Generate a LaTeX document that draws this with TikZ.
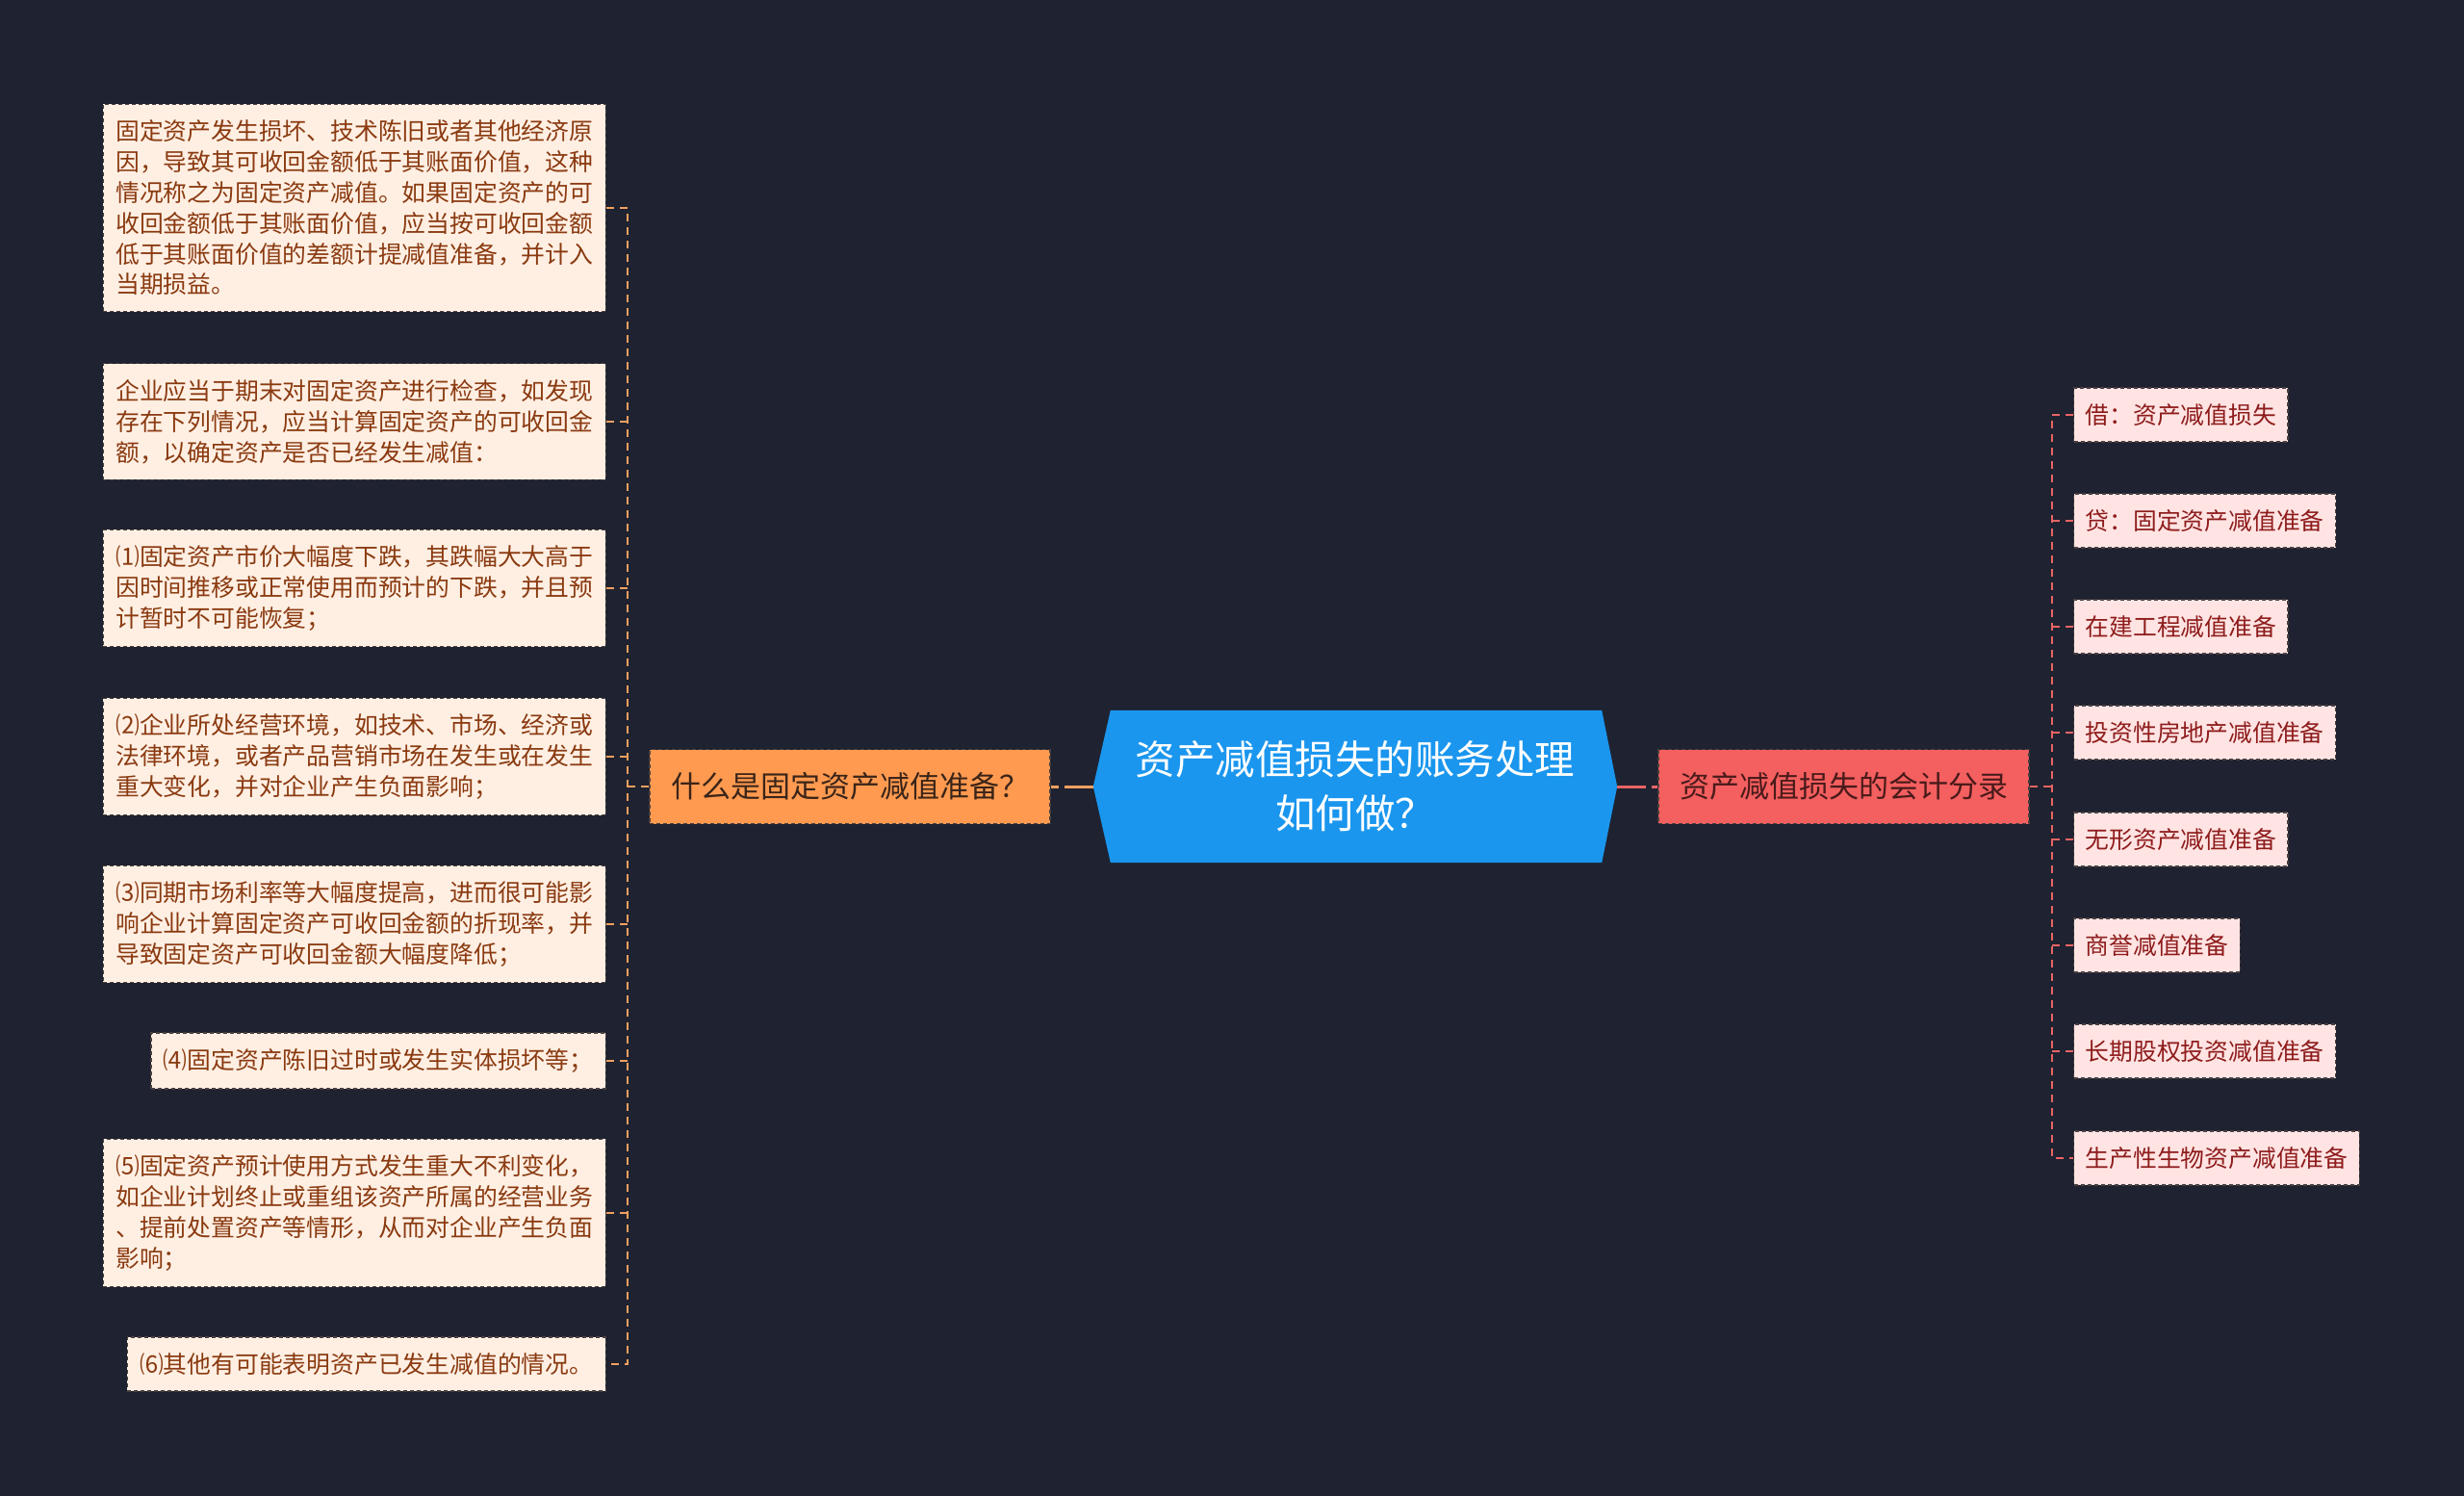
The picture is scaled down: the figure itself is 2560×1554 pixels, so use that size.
\documentclass[tikz,border=0pt]{standalone}
\usepackage{fontspec}
\setmainfont{Noto Sans CJK SC}
\definecolor{bg}{HTML}{1F2230}
\definecolor{cblue}{HTML}{1A96EE}
\definecolor{orangeb}{HTML}{FF9A50}
\definecolor{redb}{HTML}{F45F5F}
\definecolor{lfill}{HTML}{FFEFE3}
\definecolor{rfill}{HTML}{FFE4E3}
\definecolor{ltext}{HTML}{8A3A10}
\definecolor{rtext}{HTML}{8E1C1C}
\definecolor{lline}{HTML}{F0A060}
\definecolor{rline}{HTML}{E86464}
\definecolor{bborder}{HTML}{4A4040}
\definecolor{lbtext}{HTML}{3A2418}
\definecolor{rbtext}{HTML}{4A1A1A}
\begin{document}
\begin{tikzpicture}[x=1pt,y=-1pt,
  lbox/.style={fill=lfill, draw=bborder, line width=1.3pt, dash pattern=on 4pt off 3pt,
    text=ltext, font=\fontsize{24.8}{31.8}\selectfont, align=left,
    inner xsep=13pt, inner ysep=16.5pt, anchor=east},
  rbox/.style={fill=rfill, draw=bborder, line width=1.3pt, dash pattern=on 4pt off 3pt,
    text=rtext, font=\fontsize{24.8}{31.8}\selectfont, align=left,
    inner xsep=12pt, inner ysep=16.5pt, anchor=west},
  branchbox/.style={draw=bborder, line width=1.3pt, dash pattern=on 4pt off 3pt,
    font=\fontsize{31}{38}\selectfont, minimum height=77pt, inner sep=0pt},
  lconn/.style={draw=lline, line width=2pt, dash pattern=on 8pt off 6pt},
  rconn/.style={draw=rline, line width=2pt, dash pattern=on 8pt off 6pt},
  cconnl/.style={draw=lline, line width=3pt, dash pattern=on 30pt off 6pt},
  cconnr/.style={draw=rline, line width=3pt, dash pattern=on 30pt off 6pt}
]
\fill[bg] (0,0) rectangle (2560,1554);
\useasboundingbox (0,0) rectangle (2560,1554);

% center
\node[minimum width=544pt, minimum height=158pt, inner sep=0pt] (c) at (1408,817) {};
\fill[cblue] (c.west) -- ([xshift=18pt]c.north west) -- ([xshift=-16pt]c.north east) -- (c.east)
  -- ([xshift=-16pt]c.south east) -- ([xshift=18pt]c.south west) -- cycle;
\node[text=white, font=\fontsize{41.5}{56}\selectfont, align=center] (ct) at (c.center)
  {资产减值损失的账务处理\\如何做？};

% branches
\node[branchbox, fill=orangeb, text=lbtext, minimum width=416pt] (lb) at (883,817)
  {什么是固定资产减值准备？};
\node[branchbox, fill=redb, text=rbtext, minimum width=385pt] (rb) at (1915.5,817)
  {资产减值损失的会计分录};

% left children
\node[lbox] (l1) at (630,216) {固定资产发生损坏、技术陈旧或者其他经济原\\因，导致其可收回金额低于其账面价值，这种\\情况称之为固定资产减值。如果固定资产的可\\收回金额低于其账面价值，应当按可收回金额\\低于其账面价值的差额计提减值准备，并计入\\当期损益。};
\node[lbox] (l2) at (630,438) {企业应当于期末对固定资产进行检查，如发现\\存在下列情况，应当计算固定资产的可收回金\\额，以确定资产是否已经发生减值：};
\node[lbox] (l3) at (630,611) {⑴固定资产市价大幅度下跌，其跌幅大大高于\\因时间推移或正常使用而预计的下跌，并且预\\计暂时不可能恢复；};
\node[lbox] (l4) at (630,786) {⑵企业所处经营环境，如技术、市场、经济或\\法律环境，或者产品营销市场在发生或在发生\\重大变化，并对企业产生负面影响；};
\node[lbox] (l5) at (630,960) {⑶同期市场利率等大幅度提高，进而很可能影\\响企业计算固定资产可收回金额的折现率，并\\导致固定资产可收回金额大幅度降低；};
\node[lbox] (l6) at (630,1102) {⑷固定资产陈旧过时或发生实体损坏等；};
\node[lbox] (l7) at (630,1260) {⑸固定资产预计使用方式发生重大不利变化，\\如企业计划终止或重组该资产所属的经营业务\\、提前处置资产等情形，从而对企业产生负面\\影响；};
\node[lbox] (l8) at (630,1417) {⑹其他有可能表明资产已发生减值的情况。};

% right children
\node[rbox] (r1) at (2154,431) {借：资产减值损失};
\node[rbox] (r2) at (2154,541) {贷：固定资产减值准备};
\node[rbox] (r3) at (2154,651) {在建工程减值准备};
\node[rbox] (r4) at (2154,761) {投资性房地产减值准备};
\node[rbox] (r5) at (2154,872) {无形资产减值准备};
\node[rbox] (r6) at (2154,982) {商誉减值准备};
\node[rbox] (r7) at (2154,1092) {长期股权投资减值准备};
\node[rbox] (r8) at (2154,1203) {生产性生物资产减值准备};

% connectors
\draw[cconnl] (c.west) -- (lb.east);
\draw[cconnr] (c.east) -- (rb.west);

\coordinate (lbus) at (652,817);
\draw[lconn] (lb.west) -- (lbus);
\draw[lconn] (l1.east) -- (l1.east -| lbus) -- (l8.east -| lbus) -- (l8.east);
\foreach \i in {2,...,7} \draw[lconn] (l\i.east) -- (l\i.east -| lbus);

\coordinate (rbus) at (2132,817);
\draw[rconn] (rb.east) -- (rbus);
\draw[rconn] (r1.west) -- (r1.west -| rbus) -- (r8.west -| rbus) -- (r8.west);
\foreach \i in {2,...,7} \draw[rconn] (r\i.west) -- (r\i.west -| rbus);
\end{tikzpicture}
\end{document}
